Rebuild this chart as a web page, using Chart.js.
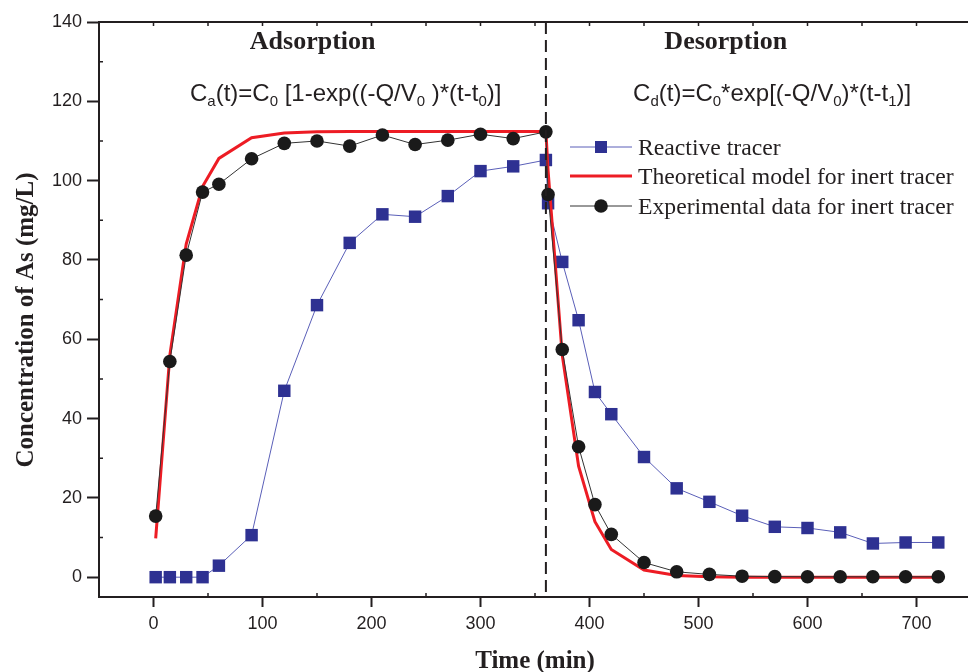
<!DOCTYPE html>
<html>
<head>
<meta charset="utf-8">
<script src="https://cdn.jsdelivr.net/npm/chart.js@4/dist/chart.umd.min.js"></script>
<style>
html,body{margin:0;padding:0;background:#fff;overflow:hidden;}
canvas{display:block;}
</style>
</head>
<body>
<canvas id="c" width="980" height="672"></canvas>
<script>
// ---- data ----
const reactiveTime = [2,15,30,45,60,90,120,150,180,210,240,270,300,330,360,362,375,390,405,420,450,480,510,540,570,600,630,660,690,720];
const reactiveConc = [0,0,0,0,2.9,10.6,47.0,68.6,84.3,91.5,90.9,96.1,102.4,103.6,105.2,94.3,79.5,64.8,46.7,41.1,30.3,22.4,19.0,15.5,12.7,12.4,11.3,8.5,8.75,8.75];

const expTime = [2,15,30,45,60,90,120,150,180,210,240,270,300,330,360,362,375,390,405,420,450,480,510,540,570,600,630,660,690,720];
const expConc = [15.4,54.4,81.2,97.1,99.1,105.5,109.4,110.0,108.7,111.5,109.1,110.2,111.7,110.6,112.3,96.5,57.4,32.9,18.3,10.8,3.7,1.35,0.7,0.25,0.15,0.1,0.1,0.1,0.1,0.1];

const modelTime = [2,15,30,45,60,90,120,150,180,210,240,270,300,330,360,362,375,390,405,420,450,480,510,540,570,600,630,660,690,720];
const modelConc = [9.8,56,84,98.5,105.6,110.8,112.0,112.3,112.4,112.4,112.4,112.4,112.4,112.4,112.4,102.5,56,28,14,7,1.8,0.4,0.1,0,0,0,0,0,0,0];

const xTicks = [0,100,200,300,400,500,600,700];
const yTicks = [0,20,40,60,80,100,120,140];
const seriesNames = ['Reactive tracer','Theoretical model for inert tracer','Experimental data for inert tracer'];
const xTitle = 'Time (min)';
const yTitle = 'Concentration of As (mg/L)';
const switchTime = 360;

// ---- styles ----
const INK = '#231f20';
const BLUE = '#2e3192';
const BLUE_LINE = '#5a5fb8';
const RED = '#ed1c24';
const BLACK = '#1a1a1a';
const SANS = '"Liberation Sans", Arial, sans-serif';
const SERIF = '"Liberation Serif", "Times New Roman", serif';

const toXY = (xs, ys) => xs.map((x, i) => ({x, y: ys[i]}));

const decor = {
  id: 'decor',
  afterDraw(chart) {
    const {ctx, chartArea: a, scales: {x: xs, y: ys}} = chart;
    ctx.save();
    // frame (top + right)
    ctx.strokeStyle = INK; ctx.lineWidth = 2;
    ctx.beginPath();
    ctx.moveTo(a.left, a.top); ctx.lineTo(a.right, a.top); ctx.lineTo(a.right, a.bottom);
    ctx.stroke();
    // minor / inner ticks
    ctx.lineWidth = 1.5;
    ctx.beginPath();
    for (let v = -50; v <= 750; v += 50) {
      const px = xs.getPixelForValue(v);
      if (px <= a.left + 1 || px >= a.right - 1) continue;
      if (v % 100 !== 0) { ctx.moveTo(px, a.bottom); ctx.lineTo(px, a.bottom - 4); }
      ctx.moveTo(px, a.top); ctx.lineTo(px, a.top + 4);
    }
    for (let v = 10; v <= 130; v += 20) {
      const py = ys.getPixelForValue(v);
      ctx.moveTo(a.left, py); ctx.lineTo(a.left + 4, py);
    }
    ctx.stroke();
    // dashed switch line
    const sx = xs.getPixelForValue(switchTime);
    ctx.setLineDash([12, 6]); ctx.lineWidth = 2; ctx.strokeStyle = INK;
    ctx.beginPath(); ctx.moveTo(sx, a.top); ctx.lineTo(sx, a.bottom); ctx.stroke();
    ctx.setLineDash([]);

    // phase titles
    ctx.fillStyle = INK;
    ctx.font = 'bold 26px ' + SERIF;
    ctx.textAlign = 'center'; ctx.textBaseline = 'alphabetic';
    ctx.fillText('Adsorption', xs.getPixelForValue(146), ys.getPixelForValue(133.3));
    ctx.fillText('Desorption', xs.getPixelForValue(525), ys.getPixelForValue(133.3));

    // formulas
    const rich = (x, y, parts) => {
      ctx.textAlign = 'left';
      for (const [t, sub] of parts) {
        ctx.font = (sub ? 15 : 24) + 'px ' + SANS;
        ctx.fillText(t, x, y + (sub ? 5 : 0));
        x += ctx.measureText(t).width;
      }
    };
    const fy = ys.getPixelForValue(120.2);
    rich(xs.getPixelForValue(33.5), fy, [['C'],['a',1],['(t)=C'],['0',1],[' [1-exp((-Q/V'],['0',1],[' )*(t-t'],['0',1],[')]']]);
    rich(xs.getPixelForValue(440), fy, [['C'],['d',1],['(t)=C'],['0',1],['*exp[(-Q/V'],['0',1],[')*(t-t'],['1',1],[')]']]);

    // legend
    const lx0 = 570, lx1 = 632, mx = 601, tx = 638;
    const rows = [147, 176, 206];
    ctx.font = '23.7px ' + SERIF; ctx.textAlign = 'left'; ctx.textBaseline = 'alphabetic';
    // row 1: reactive
    ctx.strokeStyle = BLUE_LINE; ctx.lineWidth = 1;
    ctx.beginPath(); ctx.moveTo(lx0, rows[0]); ctx.lineTo(lx1, rows[0]); ctx.stroke();
    ctx.fillStyle = BLUE; ctx.fillRect(mx - 6, rows[0] - 6, 12, 12);
    // row 2: model
    ctx.strokeStyle = RED; ctx.lineWidth = 3;
    ctx.beginPath(); ctx.moveTo(lx0, rows[1]); ctx.lineTo(lx1, rows[1]); ctx.stroke();
    // row 3: experimental
    ctx.strokeStyle = '#333'; ctx.lineWidth = 1;
    ctx.beginPath(); ctx.moveTo(lx0, rows[2]); ctx.lineTo(lx1, rows[2]); ctx.stroke();
    ctx.fillStyle = BLACK; ctx.beginPath(); ctx.arc(mx, rows[2], 6.8, 0, Math.PI * 2); ctx.fill();
    ctx.fillStyle = INK;
    seriesNames.forEach((n, i) => ctx.fillText(n, tx, rows[i] + 8));

    // axis titles
    ctx.font = 'bold 25px ' + SERIF;
    ctx.textAlign = 'center';
    ctx.fillText(xTitle, (a.left + a.right) / 2, 668);
    ctx.save();
    ctx.translate(33, 320); ctx.rotate(-Math.PI / 2);
    ctx.fillText(yTitle, 0, 0);
    ctx.restore();
    ctx.restore();
  }
};

new Chart(document.getElementById('c'), {
  type: 'scatter',
  data: {
    datasets: [
      {
        label: seriesNames[2], data: toXY(expTime, expConc), showLine: true, order: 0,
        borderColor: '#333', borderWidth: 1, pointStyle: 'circle', pointRadius: 6.8,
        pointBackgroundColor: BLACK, pointBorderColor: BLACK, pointBorderWidth: 0
      },
      {
        label: seriesNames[1], data: toXY(modelTime, modelConc), showLine: true, order: 1,
        borderColor: RED, borderWidth: 3, pointRadius: 0, tension: 0
      },
      {
        label: seriesNames[0], data: toXY(reactiveTime, reactiveConc), showLine: true, order: 2,
        borderColor: BLUE_LINE, borderWidth: 1, pointStyle: 'rect', pointRadius: 8.8,
        pointBackgroundColor: BLUE, pointBorderColor: BLUE, pointBorderWidth: 0
      }
    ]
  },
  options: {
    responsive: false, animation: false, events: [],
    layout: {padding: {top: 22, right: 9, left: 0, bottom: 0}},
    plugins: {legend: {display: false}, tooltip: {enabled: false}},
    scales: {
      x: {
        type: 'linear', min: -50, max: 750,
        afterBuildTicks: s => { s.ticks = xTicks.map(v => ({value: v})); },
        afterFit: s => { s.height = 75; },
        ticks: {color: INK, font: {family: SANS, size: 18}, padding: 6, maxRotation: 0, autoSkip: false},
        grid: {display: true, drawOnChartArea: false, drawTicks: true, tickLength: 10, tickWidth: 2, tickColor: INK},
        border: {display: true, color: INK, width: 2}
      },
      y: {
        type: 'linear', min: -5, max: 140,
        afterBuildTicks: s => { s.ticks = yTicks.map(v => ({value: v})); },
        afterFit: s => { s.width = 99; },
        ticks: {color: INK, font: {family: SANS, size: 18}, padding: 5, autoSkip: false},
        grid: {display: true, drawOnChartArea: false, drawTicks: true, tickLength: 12, tickWidth: 2, tickColor: INK},
        border: {display: true, color: INK, width: 2}
      }
    }
  },
  plugins: [decor]
});
</script>
</body>
</html>
